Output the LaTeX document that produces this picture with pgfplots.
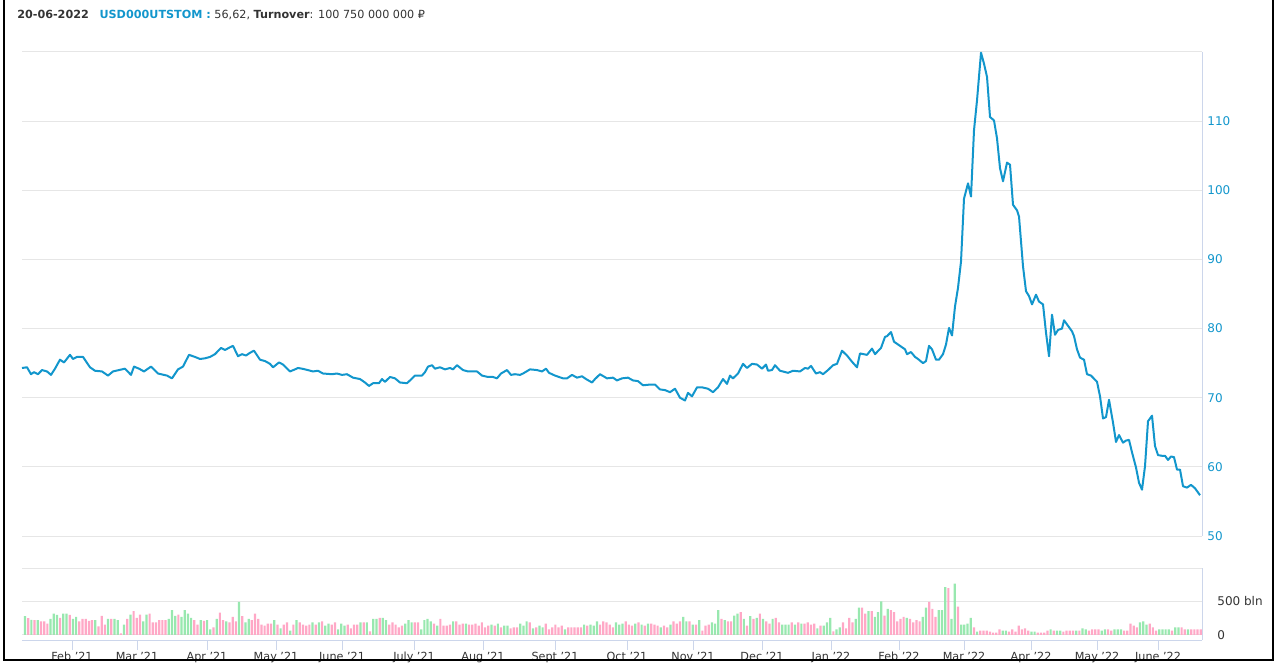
\documentclass[border=0pt]{standalone}
\usepackage{fontspec}
\setmainfont{DejaVu Sans}
\usepackage{pgfplots}
\pgfplotsset{compat=1.18}
\usepackage{pgfplotstable}

\definecolor{lineblue}{RGB}{18,150,204}
\definecolor{gridc}{RGB}{230,230,230}
\definecolor{axisc}{RGB}{204,214,235}
\definecolor{txt}{RGB}{51,51,51}
\definecolor{vgreen}{RGB}{152,232,175}
\definecolor{vpink}{RGB}{255,168,198}

% exchange rate, x in chart pixels
\pgfplotstableread[row sep=\\]{
x y\\
22 74.3\\ 27 74.4\\ 31 73.4\\ 34 73.7\\ 38 73.4\\ 42 74.0\\ 47 73.8\\ 51 73.3\\ 55 74.2\\ 60 75.5\\
64 75.1\\ 70 76.2\\ 73 75.6\\ 77 75.9\\ 83 75.9\\ 90 74.4\\ 95 73.9\\ 102 73.8\\ 108 73.2\\ 113 73.8\\
122 74.1\\ 125 74.2\\ 131 73.3\\ 134 74.5\\ 139 74.2\\ 144 73.8\\ 151 74.5\\ 158 73.5\\ 167 73.2\\ 172 72.8\\
178 74.1\\ 183 74.5\\ 189 76.2\\ 195 75.9\\ 200 75.6\\ 205 75.7\\ 210 75.9\\ 215 76.3\\ 221 77.2\\ 225 76.9\\
230 77.3\\ 233 77.5\\ 238 76.0\\ 242 76.3\\ 246 76.1\\ 250 76.5\\ 254 76.8\\ 260 75.5\\ 265 75.3\\ 270 74.9\\
273 74.4\\ 279 75.1\\ 283 74.8\\ 290 73.8\\ 295 74.1\\ 298 74.3\\ 302 74.2\\ 305 74.1\\ 313 73.8\\ 318 73.9\\
323 73.5\\ 332 73.4\\ 337 73.5\\ 342 73.3\\ 347 73.4\\ 353 72.9\\ 360 72.7\\ 365 72.2\\ 369 71.7\\ 373 72.1\\
379 72.1\\ 382 72.7\\ 385 72.3\\ 390 73.0\\ 395 72.8\\ 400 72.2\\ 407 72.1\\ 410 72.5\\ 415 73.2\\ 422 73.2\\
425 73.7\\ 428 74.5\\ 432 74.7\\ 435 74.2\\ 440 74.4\\ 445 74.1\\ 450 74.3\\ 453 74.1\\ 457 74.7\\ 463 74.0\\
468 73.8\\ 477 73.8\\ 482 73.2\\ 488 73.0\\ 493 73.0\\ 497 72.8\\ 501 73.5\\ 507 74.0\\ 511 73.3\\ 515 73.4\\
520 73.3\\ 523 73.5\\ 530 74.1\\ 537 74.0\\ 542 73.8\\ 546 74.2\\ 549 73.6\\ 555 73.2\\ 563 72.8\\ 567 72.8\\
572 73.3\\ 577 72.9\\ 582 73.1\\ 586 72.7\\ 592 72.2\\ 595 72.7\\ 600 73.4\\ 607 72.8\\ 613 72.9\\ 617 72.5\\
622 72.8\\ 628 72.9\\ 633 72.5\\ 638 72.4\\ 643 71.8\\ 650 71.9\\ 655 71.9\\ 660 71.2\\ 665 71.1\\ 670 70.8\\
675 71.3\\ 680 70.0\\ 685 69.6\\ 688 70.7\\ 692 70.2\\ 697 71.5\\ 702 71.5\\ 708 71.3\\ 713 70.8\\ 718 71.5\\
723 72.7\\ 727 72.0\\ 730 73.2\\ 733 72.8\\ 738 73.5\\ 743 74.9\\ 747 74.3\\ 752 74.9\\ 757 74.8\\ 762 74.2\\
766 74.8\\ 768 73.9\\ 772 74.0\\ 775 74.7\\ 780 73.9\\ 788 73.6\\ 793 73.9\\ 800 73.8\\ 805 74.3\\ 808 74.2\\
811 74.6\\ 816 73.5\\ 820 73.7\\ 823 73.4\\ 828 74.0\\ 833 74.7\\ 837 74.9\\ 842 76.8\\ 847 76.1\\ 852 75.2\\
857 74.4\\ 860 76.4\\ 867 76.2\\ 872 77.1\\ 875 76.3\\ 881 77.2\\ 885 78.8\\ 887 78.9\\ 891 79.5\\ 894 78.1\\
898 77.7\\ 905 77.0\\ 907 76.3\\ 911 76.6\\ 915 75.9\\ 918 75.6\\ 923 75.0\\ 926 75.3\\ 929 77.5\\ 932 77.0\\
936 75.5\\ 939 75.5\\ 943 76.3\\ 946 77.7\\ 949 80.1\\ 952 79.0\\ 955 83.2\\ 958 85.9\\ 961 89.7\\ 964 98.8\\
968 101.0\\ 971 99.1\\ 974 108.7\\ 977 113.0\\ 981 119.9\\ 984 118.3\\ 987 116.4\\ 990 110.6\\ 994 110.1\\ 997 107.5\\
1000 103.2\\ 1003 101.3\\ 1007 104.0\\ 1010 103.7\\ 1013 97.9\\ 1017 97.1\\ 1019 96.2\\ 1023 89.0\\ 1026 85.4\\ 1029 84.7\\
1032 83.5\\ 1036 84.9\\ 1039 83.9\\ 1043 83.5\\ 1046 79.4\\ 1049 76.0\\ 1052 82.0\\ 1055 79.1\\ 1058 79.8\\ 1062 80.0\\
1064 81.2\\ 1068 80.4\\ 1072 79.6\\ 1074 78.9\\ 1077 77.0\\ 1080 75.8\\ 1084 75.5\\ 1087 73.4\\ 1091 73.2\\ 1093 72.9\\
1097 72.3\\ 1100 70.2\\ 1103 67.0\\ 1106 67.2\\ 1109 69.7\\ 1113 66.4\\ 1116 63.6\\ 1119 64.6\\ 1123 63.5\\ 1126 63.8\\
1129 63.9\\ 1132 62.1\\ 1136 59.9\\ 1139 57.7\\ 1142 56.7\\ 1145 60.1\\ 1148 66.6\\ 1152 67.4\\ 1155 63.0\\ 1158 61.7\\
1162 61.6\\ 1165 61.6\\ 1168 61.0\\ 1171 61.5\\ 1174 61.4\\ 1177 59.6\\ 1180 59.6\\ 1183 57.2\\ 1187 57.0\\ 1191 57.4\\
1195 56.9\\ 1198 56.3\\ 1200 55.9\\
}\rate

% turnover, bln RUB, one row per trading day; c: 0 = up day (green), 1 = down day (pink)
\pgfplotstableread[row sep=\\]{
v c\\
280 0\\ 250 1\\ 225 0\\ 220 1\\ 220 0\\ 205 1\\ 205 1\\ 170 1\\ 240 0\\ 320 0\\
300 0\\ 255 1\\ 320 0\\ 320 0\\ 300 1\\ 240 0\\ 270 0\\ 205 1\\ 240 1\\ 240 1\\
210 1\\ 220 1\\ 220 0\\ 130 1\\ 285 1\\ 155 1\\ 240 0\\ 240 1\\ 240 0\\ 220 0\\
25 1\\ 155 0\\ 240 1\\ 305 0\\ 355 1\\ 255 1\\ 305 1\\ 205 0\\ 305 0\\ 320 1\\
190 1\\ 190 1\\ 220 1\\ 220 1\\ 220 1\\ 240 0\\ 370 0\\ 285 0\\ 305 1\\ 270 0\\
370 0\\ 320 0\\ 255 0\\ 220 1\\ 155 1\\ 220 0\\ 210 1\\ 220 0\\ 85 0\\ 115 1\\
240 0\\ 335 1\\ 220 1\\ 205 0\\ 190 1\\ 270 1\\ 205 1\\ 495 0\\ 280 1\\ 190 0\\
240 0\\ 220 1\\ 320 1\\ 240 1\\ 155 1\\ 140 1\\ 170 1\\ 170 1\\ 220 0\\ 155 1\\
100 0\\ 155 1\\ 190 1\\ 65 0\\ 155 1\\ 220 0\\ 190 1\\ 155 1\\ 140 1\\ 155 1\\
190 0\\ 155 1\\ 190 0\\ 205 1\\ 140 0\\ 170 0\\ 155 1\\ 190 1\\ 85 0\\ 170 0\\
140 0\\ 155 1\\ 100 1\\ 155 1\\ 155 1\\ 190 0\\ 190 1\\ 190 0\\ 55 1\\ 240 0\\
240 0\\ 255 1\\ 255 0\\ 220 0\\ 155 1\\ 190 1\\ 155 1\\ 115 1\\ 140 1\\ 170 0\\
220 0\\ 190 0\\
190 1\\ 190 1\\ 85 0\\ 220 0\\ 240 0\\ 205 0\\ 170 1\\ 140 0\\ 240 1\\ 140 1\\
140 1\\ 155 1\\ 205 0\\ 205 1\\ 155 1\\ 170 1\\ 170 0\\ 155 1\\ 155 1\\ 170 1\\
140 1\\ 190 1\\ 115 1\\ 140 1\\ 155 0\\ 140 1\\ 170 0\\ 115 1\\ 140 0\\ 140 0\\
100 1\\ 115 1\\ 115 1\\ 170 0\\ 140 0\\ 205 0\\ 190 1\\ 100 0\\ 115 1\\ 140 0\\
115 0\\ 170 1\\ 85 1\\ 115 1\\ 155 1\\ 115 1\\ 140 1\\ 85 0\\ 115 1\\ 115 1\\
115 1\\ 115 1\\ 115 1\\ 155 0\\ 140 1\\ 155 0\\ 140 0\\ 205 0\\ 155 1\\ 205 1\\
190 1\\ 155 1\\ 115 1\\ 190 0\\ 155 0\\ 170 0\\ 205 1\\ 155 1\\ 140 1\\ 170 0\\
190 1\\ 155 0\\ 140 1\\ 170 0\\ 170 1\\ 155 1\\ 140 1\\ 115 0\\ 140 1\\ 115 1\\
155 0\\ 205 1\\ 170 1\\ 205 1\\ 270 0\\ 205 0\\ 205 1\\ 155 0\\ 155 1\\ 220 0\\
65 1\\ 140 1\\ 155 1\\ 190 0\\ 170 0\\ 370 0\\ 240 1\\ 220 0\\ 205 1\\ 205 1\\
290 0\\ 320 0\\ 340 1\\ 240 0\\ 140 1\\ 280 0\\ 240 1\\ 255 0\\ 320 1\\ 240 0\\
205 1\\ 170 1\\ 240 0\\ 255 1\\ 190 1\\ 155 0\\ 155 0\\ 155 0\\ 190 1\\ 155 0\\
190 1\\ 170 0\\ 170 1\\ 190 1\\
155 1\\ 170 1\\ 100 0\\ 140 1\\ 140 0\\ 190 0\\ 255 0\\ 55 1\\ 85 0\\ 115 0\\
190 1\\ 100 1\\ 255 1\\ 190 1\\ 240 0\\ 410 0\\ 410 1\\ 320 1\\ 355 0\\ 355 1\\
270 0\\ 340 0\\ 500 0\\ 290 1\\ 390 0\\ 370 1\\ 340 1\\ 205 1\\ 240 1\\ 270 1\\
255 0\\ 240 1\\ 190 1\\ 220 1\\ 205 1\\ 270 0\\ 410 0\\ 495 1\\ 390 1\\ 270 1\\
370 0\\ 370 0\\ 715 0\\ 700 1\\ 240 0\\ 765 0\\ 425 1\\ 155 0\\ 155 0\\ 170 0\\
255 0\\ 115 1\\ 50 0\\ 65 1\\ 65 1\\ 65 1\\ 50 1\\ 35 1\\ 35 1\\ 85 1\\
65 0\\ 65 0\\ 50 1\\ 85 1\\ 50 1\\ 140 1\\ 85 1\\ 100 1\\ 65 1\\ 50 0\\
50 0\\ 35 1\\ 35 1\\ 35 1\\ 65 1\\ 85 0\\ 65 1\\ 65 0\\ 65 0\\ 50 1\\
65 1\\ 65 1\\ 65 1\\ 65 0\\ 65 1\\ 100 0\\ 85 0\\ 65 1\\ 85 1\\ 85 1\\
85 1\\ 65 0\\ 85 0\\ 85 1\\ 65 1\\ 85 0\\ 85 0\\ 85 0\\ 65 1\\ 65 1\\
170 1\\ 140 1\\ 115 1\\ 190 0\\ 205 0\\ 155 0\\ 170 1\\ 115 1\\ 65 1\\ 85 0\\
85 0\\ 85 0\\ 85 0\\ 65 1\\ 115 0\\ 115 0\\ 115 1\\ 85 1\\ 85 0\\ 85 1\\
85 1\\ 85 1\\ 85 1\\
}\vol

\begin{document}
\begin{tikzpicture}[font=\fontsize{8.4}{10}\selectfont]
\useasboundingbox (0,0) rectangle (957pt,498pt);

\node[anchor=west, inner sep=0pt] at (12.75pt,486.75pt)
  {\textcolor{txt}{\bfseries 20-06-2022}\hspace{8pt}\textcolor{lineblue}{\bfseries USD000UTSTOM :} \textcolor{txt}{56,62, \textbf{Turnover}: 100 750 000 000 ₽}};

\begin{axis}[
  scale only axis, width=885pt, height=363pt,
  at={(16.5pt,96pt)}, anchor=south west,
  xmin=22, xmax=1202, ymin=50, ymax=120,
  axis x line=none, axis y line*=right,
  y axis line style={axisc, line width=0.75pt},
  ytick={50,60,...,120}, yticklabels={50,60,70,80,90,100,110,{}},
  major tick length=0pt,
  ymajorgrids, grid style={gridc, line width=0.75pt},
  yticklabel style={anchor=west, xshift=0.5pt, text=lineblue, font=\fontsize{9}{10}\selectfont},
  clip=false,
]
\addplot[lineblue, line width=1.5pt, line join=round, mark=none] table[x=x, y=y]{\rate};
\end{axis}

\begin{axis}[
  scale only axis, width=885pt, height=54pt,
  at={(16.5pt,18pt)}, anchor=south west,
  xmin=22, xmax=1202, ymin=-75, ymax=1000,
  axis x line*=bottom, axis y line*=right,
  axis line style={axisc, line width=0.75pt},
  xtick={72,137,207,276,342,414,483,555,627,693,762,831,899,964,1031,1097,1158},
  xticklabels={Feb '21,Mar '21,Apr '21,May '21,June '21,July '21,Aug '21,Sept '21,Oct '21,Nov '21,Dec '21,Jan '22,Feb '22,Mar '22,Apr '22,May '22,June '22},
  tick align=outside, major tick length=7.5pt,
  x tick style={axisc, line width=0.75pt},
  y tick style={draw=none},
  ytick={0,500,1000}, yticklabels={0,500 bln,{}},
  ymajorgrids, grid style={gridc, line width=0.75pt},
  xticklabel style={text=txt, yshift=2pt},
  yticklabel style={anchor=west, xshift=0.5pt, text=txt, font=\fontsize{9}{10}\selectfont},
]
\addplot[ybar, bar width=2.2, bar shift=0pt, fill=vgreen, draw=none]
  table[x expr=25+3.195*\coordindex, y expr=\thisrow{v}*(1-\thisrow{c})]{\vol};
\addplot[ybar, bar width=2.2, bar shift=0pt, fill=vpink, draw=none]
  table[x expr=25+3.195*\coordindex, y expr=\thisrow{v}*\thisrow{c}]{\vol};
\end{axis}

\draw[black, line width=0.9pt] (3pt,498pt) -- (3pt,3pt) -- (954.75pt,3pt) -- (954.75pt,498pt);
\end{tikzpicture}
\end{document}
